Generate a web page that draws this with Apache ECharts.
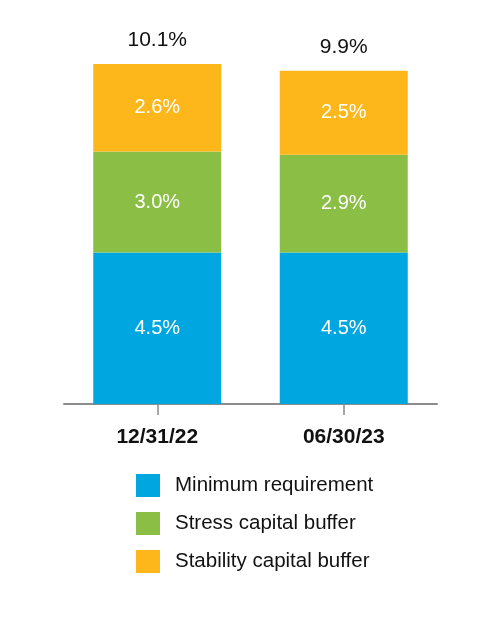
<!DOCTYPE html>
<html>
<head>
<meta charset="utf-8">
<script src="https://cdn.jsdelivr.net/npm/echarts@6/dist/echarts.min.js"></script>
<style>
html,body{margin:0;padding:0;background:#fff;}
#chart{width:500px;height:640px;}
</style>
</head>
<body>
<div id="chart"></div>
<script>
var categories = ['12/31/22', '06/30/23'];
var minimumRequirement = [4.5, 4.5];
var stressCapitalBuffer = [3.0, 2.9];
var stabilityCapitalBuffer = [2.6, 2.5];
var totals = [10.1, 9.9];
var seriesNames = ['Minimum requirement', 'Stress capital buffer', 'Stability capital buffer'];

var FONT = "'Liberation Sans', Arial, sans-serif";
var colors = ['#00A6E0', '#8BBE44', '#FDB71A'];

function segLabel() {
  return {
    show: true,
    position: 'inside',
    color: '#ffffff',
    fontSize: 20,
    fontFamily: FONT,
    formatter: function (p) { return p.value.toFixed(1) + '%'; }
  };
}

var chart = echarts.init(document.getElementById('chart'), null, {renderer: 'canvas'});
chart.setOption({
  animation: false,
  backgroundColor: '#ffffff',
  grid: {left: 64, width: 373, top: 0, height: 404, containLabel: false},
  legend: {
    data: seriesNames,
    orient: 'vertical',
    left: 136,
    top: 474,
    padding: 0,
    itemWidth: 24,
    itemHeight: 23,
    itemGap: 15,
    icon: 'rect',
    selectedMode: false,
    textStyle: {fontSize: 20.5, fontFamily: FONT, color: '#111111', padding: [0, 0, 0, 10]}
  },
  xAxis: {
    type: 'category',
    data: categories,
    boundaryGap: true,
    axisLine: {show: true, lineStyle: {color: '#8c8c8c', width: 2}},
    axisTick: {show: true, alignWithLabel: true, length: 11, lineStyle: {color: '#8c8c8c', width: 1.5}},
    axisLabel: {margin: 23, fontSize: 21, fontWeight: 'bold', fontFamily: FONT, color: '#111111'}
  },
  yAxis: {
    type: 'value',
    min: 0,
    max: 12,
    show: false,
    splitLine: {show: false}
  },
  series: [
    {
      name: seriesNames[0], type: 'bar', stack: 'cap', barWidth: 128,
      data: minimumRequirement, itemStyle: {color: colors[0]}, label: segLabel()
    },
    {
      name: seriesNames[1], type: 'bar', stack: 'cap', barWidth: 128,
      data: stressCapitalBuffer, itemStyle: {color: colors[1]}, label: segLabel()
    },
    {
      name: seriesNames[2], type: 'bar', stack: 'cap', barWidth: 128,
      data: stabilityCapitalBuffer, itemStyle: {color: colors[2]}, label: segLabel()
    },
    {
      name: 'Total', type: 'bar', barWidth: 128, barGap: '-100%',
      data: totals, itemStyle: {color: 'rgba(0,0,0,0)'}, z: 0,
      label: {
        show: true, position: 'top', distance: 13,
        color: '#111111', fontSize: 21, fontFamily: FONT,
        formatter: function (p) { return p.value.toFixed(1) + '%'; }
      }
    }
  ]
});
</script>
</body>
</html>
